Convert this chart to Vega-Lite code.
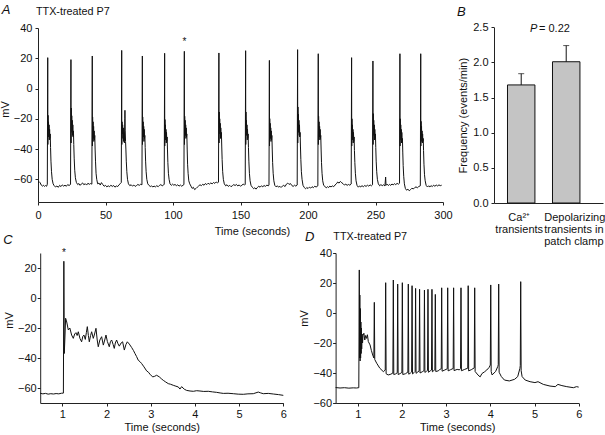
{
"$schema": "https://vega.github.io/schema/vega-lite/v6.json",
"width": 605, "height": 435,
"autosize": {"type": "none"},
"padding": 0,
"background": "white",
"config": {
  "view": {"stroke": null},
  "axis": {"grid": false, "domainColor": "#222", "tickColor": "#222", "labelColor": "#111", "titleColor": "#111", "labelFont": "Liberation Sans", "titleFont": "Liberation Sans", "labelFontSize": 11, "titleFontSize": 11, "titleFontWeight": "normal", "tickSize": 3, "labelPadding": 3, "titlePadding": 3, "labelFlush": false, "labelOverlap": false, "domainWidth": 1, "tickWidth": 1},
  "text": {"font": "Liberation Sans", "color": "#111"}
},
"datasets": {
"traceA": [
{"t":0,"v":-62.0},{"t":0.8,"v":-61.5},{"t":1.6,"v":-62.3},{"t":2.4,"v":-63.8},{"t":3.2,"v":-64.5},{"t":4.0,"v":-63.9},{"t":4.8,"v":-64.7},{"t":5.6,"v":-64.1},{"t":6.4,"v":-64.6},{"t":6.9,"v":-63.2},
{"t":7.2,"v":20.4},{"t":7.3,"v":-37},{"t":7.45,"v":-17.7},{"t":7.65,"v":-28},{"t":7.8,"v":-22},{"t":8.0,"v":-32},{"t":8.2,"v":-24},{"t":8.4,"v":-34},{"t":8.6,"v":-27},{"t":8.8,"v":-33},{"t":9.05,"v":-30},{"t":9.3,"v":-39},{"t":9.6,"v":-48},{"t":10.0,"v":-55},{"t":10.5,"v":-60},{"t":11.2,"v":-63},
{"t":12,"v":-64.2},{"t":13,"v":-65.1},{"t":14,"v":-64.4},{"t":15,"v":-65.3},{"t":16,"v":-64.0},{"t":17,"v":-64.8},{"t":18,"v":-63.7},{"t":19,"v":-64.5},{"t":20,"v":-63.9},{"t":21,"v":-64.6},{"t":22,"v":-63.5},{"t":23,"v":-64.1},{"t":24.1,"v":-63.4},
{"t":24.4,"v":19.1},{"t":24.5,"v":-36},{"t":24.65,"v":-12.9},{"t":24.85,"v":-24},{"t":25.0,"v":-18},{"t":25.2,"v":-29},{"t":25.4,"v":-21},{"t":25.6,"v":-31},{"t":25.8,"v":-24},{"t":26.0,"v":-32},{"t":26.25,"v":-28},{"t":26.5,"v":-37},{"t":26.8,"v":-46},{"t":27.2,"v":-54},{"t":27.7,"v":-59},{"t":28.4,"v":-62},
{"t":29.4,"v":-63.5},{"t":30.3,"v":-62.8},{"t":31.2,"v":-64.0},{"t":32.1,"v":-63.1},{"t":33,"v":-62.4},{"t":34,"v":-63.6},{"t":35,"v":-62.9},{"t":36,"v":-63.8},{"t":37,"v":-62.6},{"t":38,"v":-63.3},{"t":39,"v":-62.8},{"t":39.9,"v":-63.2},
{"t":40.2,"v":21.5},{"t":40.3,"v":-38},{"t":40.45,"v":-18.8},{"t":40.65,"v":-29},{"t":40.8,"v":-22},{"t":41.0,"v":-33},{"t":41.2,"v":-25},{"t":41.4,"v":-35},{"t":41.6,"v":-28},{"t":41.8,"v":-34},{"t":42.05,"v":-31},{"t":42.3,"v":-40},{"t":42.6,"v":-48},{"t":43.0,"v":-56},{"t":43.5,"v":-60},{"t":44.2,"v":-63},
{"t":45.2,"v":-62.5},{"t":46.1,"v":-63.8},{"t":47,"v":-62.2},{"t":48,"v":-63.5},{"t":49,"v":-64.6},{"t":50,"v":-64.0},{"t":51,"v":-65.0},{"t":52,"v":-64.3},{"t":53,"v":-64.9},{"t":54,"v":-63.9},{"t":55,"v":-64.7},{"t":56,"v":-64.1},{"t":57,"v":-65.2},{"t":58,"v":-64.4},{"t":59,"v":-64.8},{"t":60,"v":-63.6},{"t":61,"v":-62.8},{"t":61.7,"v":-62.2},
{"t":62.0,"v":25.2},{"t":62.1,"v":-37},{"t":62.25,"v":-22},{"t":62.45,"v":-30},{"t":62.7,"v":-24},{"t":62.95,"v":-33},{"t":63.2,"v":-26},{"t":63.45,"v":-35},{"t":63.7,"v":-29},{"t":64.0,"v":-36},{"t":64.3,"v":-20},{"t":64.4,"v":-14.4},{"t":64.6,"v":-28},{"t":64.85,"v":-35},{"t":65.1,"v":-40},{"t":65.4,"v":-48},{"t":65.8,"v":-55},{"t":66.3,"v":-60},{"t":67.0,"v":-63},
{"t":68,"v":-64.2},{"t":69,"v":-63.6},{"t":70,"v":-64.5},{"t":71,"v":-63.8},{"t":72,"v":-64.7},{"t":73,"v":-64.1},{"t":74,"v":-63.4},{"t":75,"v":-64.0},{"t":76,"v":-63.3},{"t":77.0,"v":-63.6},
{"t":77.3,"v":21.5},{"t":77.4,"v":-37},{"t":77.55,"v":-18.8},{"t":77.75,"v":-28},{"t":77.9,"v":-22},{"t":78.1,"v":-32},{"t":78.3,"v":-25},{"t":78.5,"v":-35},{"t":78.7,"v":-27},{"t":78.9,"v":-33},{"t":79.15,"v":-31},{"t":79.4,"v":-39},{"t":79.7,"v":-48},{"t":80.1,"v":-55},{"t":80.6,"v":-60},{"t":81.3,"v":-63},
{"t":82.3,"v":-64.1},{"t":83.2,"v":-64.8},{"t":84.1,"v":-64.3},{"t":85,"v":-65.1},{"t":86,"v":-64.5},{"t":87,"v":-65.0},{"t":88,"v":-64.2},{"t":89,"v":-64.9},{"t":90,"v":-64.0},{"t":91,"v":-63.5},{"t":92,"v":-64.3},{"t":93,"v":-63.8},{"t":93.5,"v":-63.2},
{"t":93.8,"v":23.3},{"t":93.9,"v":-38},{"t":94.05,"v":-20.5},{"t":94.25,"v":-30},{"t":94.4,"v":-24},{"t":94.6,"v":-34},{"t":94.8,"v":-27},{"t":95.0,"v":-36},{"t":95.2,"v":-29},{"t":95.4,"v":-35},{"t":95.65,"v":-32},{"t":95.9,"v":-40},{"t":96.2,"v":-49},{"t":96.6,"v":-56},{"t":97.1,"v":-60},{"t":97.8,"v":-63},
{"t":98.8,"v":-64.0},{"t":99.7,"v":-63.2},{"t":100.6,"v":-63.9},{"t":101.5,"v":-63.4},{"t":102.5,"v":-64.2},{"t":103.5,"v":-63.6},{"t":104.5,"v":-64.5},{"t":105.5,"v":-63.8},{"t":106.5,"v":-64.6},{"t":107.4,"v":-63.9},{"t":108.1,"v":-63.5},
{"t":108.4,"v":24.6},{"t":108.5,"v":-37},{"t":108.65,"v":-18.3},{"t":108.85,"v":-27},{"t":109.0,"v":-21},{"t":109.2,"v":-31},{"t":109.4,"v":-24},{"t":109.6,"v":-33},{"t":109.8,"v":-26},{"t":110.0,"v":-32},{"t":110.25,"v":-30},{"t":110.5,"v":-40},{"t":110.8,"v":-50},{"t":111.2,"v":-56},{"t":111.7,"v":-61},{"t":112.4,"v":-63},
{"t":113.3,"v":-64.5},{"t":114.2,"v":-66.0},{"t":115.1,"v":-65.3},{"t":116,"v":-66.8},{"t":117,"v":-66.1},{"t":118,"v":-65.2},{"t":119,"v":-64.4},{"t":120,"v":-63.6},{"t":121,"v":-64.2},{"t":122,"v":-63.3},{"t":123,"v":-63.9},{"t":124,"v":-62.8},{"t":125,"v":-63.5},{"t":126,"v":-62.6},{"t":127,"v":-63.2},{"t":128,"v":-62.4},{"t":129,"v":-63.0},{"t":130,"v":-62.1},{"t":131,"v":-62.7},{"t":132,"v":-61.8},{"t":133,"v":-62.3},{"t":133.7,"v":-61.9},
{"t":134.0,"v":23.5},{"t":134.1,"v":-36},{"t":134.25,"v":-15.5},{"t":134.45,"v":-26},{"t":134.6,"v":-20},{"t":134.8,"v":-30},{"t":135.0,"v":-23},{"t":135.2,"v":-33},{"t":135.4,"v":-26},{"t":135.6,"v":-32},{"t":135.85,"v":-29},{"t":136.1,"v":-38},{"t":136.4,"v":-47},{"t":136.8,"v":-55},{"t":137.3,"v":-60},{"t":138.0,"v":-63},
{"t":139,"v":-64.3},{"t":140,"v":-63.6},{"t":141,"v":-64.7},{"t":142,"v":-64.0},{"t":143,"v":-64.9},{"t":144,"v":-64.2},{"t":145,"v":-63.5},{"t":146,"v":-64.1},{"t":147,"v":-63.4},{"t":148,"v":-64.4},{"t":149,"v":-63.7},{"t":150,"v":-64.6},{"t":151,"v":-63.9},{"t":152,"v":-63.2},{"t":153,"v":-63.8},{"t":153.5,"v":-63.3},
{"t":153.8,"v":25.0},{"t":153.9,"v":-37},{"t":154.05,"v":-15.5},{"t":154.25,"v":-27},{"t":154.4,"v":-21},{"t":154.6,"v":-31},{"t":154.8,"v":-24},{"t":155.0,"v":-34},{"t":155.2,"v":-27},{"t":155.4,"v":-33},{"t":155.65,"v":-30},{"t":155.9,"v":-39},{"t":156.2,"v":-48},{"t":156.6,"v":-56},{"t":157.1,"v":-61},{"t":157.8,"v":-64},
{"t":158.8,"v":-65.3},{"t":159.7,"v":-66.2},{"t":160.6,"v":-65.6},{"t":161.5,"v":-66.5},{"t":162.5,"v":-65.4},{"t":163.5,"v":-64.6},{"t":164.5,"v":-65.2},{"t":165.5,"v":-64.3},{"t":166.5,"v":-64.9},{"t":167.5,"v":-64.1},{"t":168.5,"v":-64.7},{"t":169.5,"v":-63.8},{"t":170.5,"v":-64.3},{"t":171.1,"v":-63.9},
{"t":171.4,"v":18.6},{"t":171.5,"v":-38},{"t":171.65,"v":-19.9},{"t":171.85,"v":-29},{"t":172.0,"v":-23},{"t":172.2,"v":-33},{"t":172.4,"v":-26},{"t":172.6,"v":-35},{"t":172.8,"v":-28},{"t":173.0,"v":-34},{"t":173.25,"v":-31},{"t":173.5,"v":-40},{"t":173.8,"v":-49},{"t":174.2,"v":-56},{"t":174.7,"v":-61},{"t":175.4,"v":-64},
{"t":176.4,"v":-65.0},{"t":177.3,"v":-64.3},{"t":178.2,"v":-65.2},{"t":179.1,"v":-64.6},{"t":180,"v":-65.4},{"t":181,"v":-64.5},{"t":182,"v":-64.0},{"t":183,"v":-64.8},{"t":184,"v":-63.2},{"t":185,"v":-62.5},{"t":186,"v":-63.4},{"t":187,"v":-62.8},{"t":188,"v":-64.1},{"t":189,"v":-64.7},{"t":190,"v":-63.9},{"t":191,"v":-64.5},{"t":192.0,"v":-63.8},
{"t":192.3,"v":25.7},{"t":192.4,"v":-36},{"t":192.55,"v":-12.2},{"t":192.75,"v":-24},{"t":192.9,"v":-17},{"t":193.1,"v":-29},{"t":193.3,"v":-21},{"t":193.5,"v":-31},{"t":193.7,"v":-24},{"t":193.9,"v":-32},{"t":194.15,"v":-29},{"t":194.4,"v":-38},{"t":194.7,"v":-47},{"t":195.1,"v":-55},{"t":195.6,"v":-60},{"t":196.3,"v":-64},
{"t":197.3,"v":-65.5},{"t":198.2,"v":-66.3},{"t":199.1,"v":-65.4},{"t":200,"v":-66.1},{"t":201,"v":-65.2},{"t":202,"v":-65.8},{"t":203,"v":-64.9},{"t":204,"v":-65.5},{"t":205,"v":-64.6},{"t":206,"v":-65.1},{"t":207.3,"v":-64.3},
{"t":207.6,"v":23.0},{"t":207.7,"v":-37},{"t":207.85,"v":-18.3},{"t":208.05,"v":-28},{"t":208.2,"v":-22},{"t":208.4,"v":-32},{"t":208.6,"v":-25},{"t":208.8,"v":-34},{"t":209.0,"v":-27},{"t":209.2,"v":-33},{"t":209.45,"v":-31},{"t":209.7,"v":-40},{"t":210.0,"v":-49},{"t":210.4,"v":-56},{"t":210.9,"v":-61},{"t":211.6,"v":-64},
{"t":212.6,"v":-64.8},{"t":213.5,"v":-65.6},{"t":214.4,"v":-64.9},{"t":215.3,"v":-65.4},{"t":216.2,"v":-64.5},{"t":217.1,"v":-65.1},{"t":218,"v":-64.3},{"t":219,"v":-64.9},{"t":220,"v":-63.8},{"t":221,"v":-63.0},{"t":222,"v":-61.8},{"t":223,"v":-62.5},{"t":224,"v":-61.4},{"t":225,"v":-62.3},{"t":226,"v":-62.9},{"t":227,"v":-63.8},{"t":228,"v":-63.2},{"t":229,"v":-64.0},{"t":230,"v":-63.4},{"t":231,"v":-63.9},{"t":232.0,"v":-63.1},
{"t":232.3,"v":20.4},{"t":232.4,"v":-38},{"t":232.55,"v":-20.0},{"t":232.75,"v":-30},{"t":232.9,"v":-24},{"t":233.1,"v":-34},{"t":233.3,"v":-27},{"t":233.5,"v":-36},{"t":233.7,"v":-29},{"t":233.9,"v":-35},{"t":234.15,"v":-32},{"t":234.4,"v":-41},{"t":234.7,"v":-49},{"t":235.1,"v":-56},{"t":235.6,"v":-61},{"t":236.3,"v":-64},
{"t":237.3,"v":-65.2},{"t":238.2,"v":-64.4},{"t":239.1,"v":-65.0},{"t":240,"v":-64.2},{"t":241,"v":-64.9},{"t":242,"v":-64.1},{"t":243,"v":-64.7},{"t":244,"v":-63.9},{"t":245,"v":-64.5},{"t":246,"v":-63.7},{"t":247,"v":-64.3},{"t":247.8,"v":-63.6},
{"t":248.1,"v":18.2},{"t":248.2,"v":-37},{"t":248.35,"v":-16.6},{"t":248.55,"v":-27},{"t":248.7,"v":-21},{"t":248.9,"v":-31},{"t":249.1,"v":-24},{"t":249.3,"v":-34},{"t":249.5,"v":-27},{"t":249.7,"v":-33},{"t":249.95,"v":-30},{"t":250.2,"v":-39},{"t":250.5,"v":-48},{"t":250.9,"v":-55},{"t":251.4,"v":-60},{"t":252.1,"v":-63},
{"t":253.1,"v":-64.3},{"t":254,"v":-63.5},{"t":255,"v":-64.2},{"t":256,"v":-63.6},{"t":257,"v":-64.4},{"t":257.5,"v":-58.5},{"t":257.8,"v":-64.0},{"t":258.6,"v":-63.2},{"t":259.5,"v":-64.1},{"t":260.4,"v":-63.4},{"t":261.3,"v":-64.0},{"t":262.2,"v":-63.1},{"t":263.1,"v":-63.7},{"t":264,"v":-62.9},{"t":265,"v":-63.5},{"t":266,"v":-62.7},{"t":267,"v":-63.2},{"t":267.8,"v":-62.6},
{"t":268.1,"v":23.0},{"t":268.2,"v":-38},{"t":268.35,"v":-20.0},{"t":268.55,"v":-30},{"t":268.7,"v":-24},{"t":268.9,"v":-34},{"t":269.1,"v":-27},{"t":269.3,"v":-36},{"t":269.5,"v":-29},{"t":269.7,"v":-35},{"t":269.95,"v":-33},{"t":270.2,"v":-42},{"t":270.5,"v":-51},{"t":270.9,"v":-58},{"t":271.4,"v":-63},{"t":272.1,"v":-66},
{"t":273,"v":-67.2},{"t":274,"v":-66.5},{"t":275,"v":-67.6},{"t":276,"v":-66.8},{"t":277,"v":-65.9},{"t":278,"v":-66.4},{"t":279,"v":-65.5},{"t":280,"v":-65.0},{"t":281,"v":-65.6},{"t":282,"v":-64.8},{"t":283.2,"v":-64.3},
{"t":283.5,"v":23.0},{"t":283.6,"v":-38},{"t":283.75,"v":-21.7},{"t":283.95,"v":-31},{"t":284.1,"v":-25},{"t":284.3,"v":-35},{"t":284.5,"v":-28},{"t":284.7,"v":-36},{"t":284.9,"v":-30},{"t":285.1,"v":-35},{"t":285.35,"v":-33},{"t":285.6,"v":-41},{"t":285.9,"v":-50},{"t":286.3,"v":-57},{"t":286.8,"v":-61},{"t":287.5,"v":-64},
{"t":288.5,"v":-65.1},{"t":289.4,"v":-64.3},{"t":290.3,"v":-65.0},{"t":291.2,"v":-64.2},{"t":292.1,"v":-64.8},{"t":293,"v":-63.9},{"t":294,"v":-64.6},{"t":295,"v":-63.8},{"t":296,"v":-64.4},{"t":297,"v":-63.7},{"t":298,"v":-64.2},{"t":299,"v":-63.9}
],
"traceC": [
{"t":0.5,"v":-63.5},{"t":0.56,"v":-63.9},{"t":0.62,"v":-63.6},{"t":0.68,"v":-64.1},{"t":0.74,"v":-63.8},{"t":0.8,"v":-64.0},{"t":0.86,"v":-63.7},{"t":0.92,"v":-63.9},{"t":0.98,"v":-63.5},{"t":1.025,"v":-63.4},
{"t":1.035,"v":24.5},{"t":1.045,"v":-37},{"t":1.06,"v":-26},{"t":1.075,"v":-13.5},{"t":1.1,"v":-16},{"t":1.136,"v":-21.3},{"t":1.17,"v":-20},{"t":1.211,"v":-24.7},{"t":1.249,"v":-26.9},{"t":1.28,"v":-24},{"t":1.309,"v":-23.1},{"t":1.336,"v":-25},{"t":1.362,"v":-22.5},{"t":1.4,"v":-27},{"t":1.437,"v":-29.2},{"t":1.465,"v":-25.5},{"t":1.49,"v":-24.7},{"t":1.52,"v":-27.6},{"t":1.545,"v":-23},{"t":1.566,"v":-19.1},{"t":1.59,"v":-25},{"t":1.611,"v":-29.2},{"t":1.64,"v":-25},{"t":1.664,"v":-22.5},{"t":1.701,"v":-26.9},{"t":1.73,"v":-24},{"t":1.762,"v":-20.2},{"t":1.79,"v":-28},{"t":1.814,"v":-32.5},{"t":1.85,"v":-28},{"t":1.89,"v":-25.8},{"t":1.928,"v":-31.4},{"t":1.96,"v":-28},{"t":1.988,"v":-24.7},{"t":2.02,"v":-29},{"t":2.063,"v":-32.5},{"t":2.09,"v":-29},{"t":2.116,"v":-28.0},{"t":2.15,"v":-31},{"t":2.176,"v":-33.6},{"t":2.2,"v":-30},{"t":2.229,"v":-28.0},{"t":2.26,"v":-30.5},{"t":2.29,"v":-32.1},{"t":2.33,"v":-30},{"t":2.365,"v":-29.2},{"t":2.403,"v":-34.7},{"t":2.44,"v":-31},{"t":2.471,"v":-29.2},{"t":2.516,"v":-30.7},{"t":2.569,"v":-33.0},{"t":2.61,"v":-35},{"t":2.644,"v":-37.0},{"t":2.68,"v":-39},{"t":2.719,"v":-41.5},{"t":2.76,"v":-42.5},{"t":2.795,"v":-43.7},{"t":2.848,"v":-45.9},{"t":2.908,"v":-48.6},{"t":2.95,"v":-49.5},{"t":2.983,"v":-50.8},{"t":3.044,"v":-52.6},{"t":3.09,"v":-52.2},{"t":3.134,"v":-51.5},{"t":3.195,"v":-52.6},{"t":3.24,"v":-53.8},{"t":3.285,"v":-54.9},{"t":3.34,"v":-56},{"t":3.398,"v":-57.1},{"t":3.45,"v":-57.5},{"t":3.511,"v":-58.2},{"t":3.57,"v":-58.8},{"t":3.624,"v":-59.3},{"t":3.662,"v":-60.7},{"t":3.7,"v":-59.1},{"t":3.76,"v":-60.8},{"t":3.813,"v":-61.6},{"t":3.89,"v":-62},{"t":3.964,"v":-62.2},{"t":4.04,"v":-61.8},{"t":4.115,"v":-62.0},{"t":4.2,"v":-62.3},{"t":4.303,"v":-62.2},{"t":4.4,"v":-62.6},{"t":4.492,"v":-62.9},{"t":4.57,"v":-63.3},{"t":4.643,"v":-63.6},{"t":4.75,"v":-63.5},{"t":4.869,"v":-63.8},{"t":4.98,"v":-64.1},{"t":5.095,"v":-64.2},{"t":5.2,"v":-63.9},{"t":5.321,"v":-63.8},{"t":5.434,"v":-62.7},{"t":5.49,"v":-63.3},{"t":5.548,"v":-63.8},{"t":5.66,"v":-63.6},{"t":5.774,"v":-64.0},{"t":5.89,"v":-64.4},{"t":6.0,"v":-64.9}
],
"traceD": [
{"t":0.5,"v":-49.7},{"t":0.6,"v":-50.0},{"t":0.7,"v":-49.8},{"t":0.8,"v":-50.1},{"t":0.9,"v":-49.9},{"t":0.97,"v":-50.0},{"t":1.025,"v":-49.8},
{"t":1.036,"v":28.7},{"t":1.042,"v":-30},{"t":1.048,"v":12},{"t":1.054,"v":-32},{"t":1.06,"v":3},{"t":1.066,"v":-30},{"t":1.072,"v":-6},{"t":1.078,"v":-27},{"t":1.084,"v":-10},{"t":1.09,"v":-24},{"t":1.1,"v":-14},{"t":1.11,"v":-20},{"t":1.12,"v":-15},{"t":1.14,"v":-13.5},{"t":1.16,"v":-18},{"t":1.18,"v":-15},{"t":1.2,"v":-16.9},{"t":1.22,"v":-14.5},{"t":1.24,"v":-19},{"t":1.28,"v":-21.3},{"t":1.31,"v":-25},{"t":1.34,"v":-28},{"t":1.366,"v":-30},
{"t":1.376,"v":7.1},{"t":1.386,"v":-31},{"t":1.43,"v":-33.5},{"t":1.5,"v":-36.8},{"t":1.58,"v":-39.1},{"t":1.623,"v":-38},
{"t":1.633,"v":20.2},{"t":1.643,"v":-40.5},{"t":1.69,"v":-41.3},{"t":1.75,"v":-40.8},{"t":1.796,"v":-40.0},
{"t":1.806,"v":22.0},{"t":1.816,"v":-41.0},{"t":1.86,"v":-40.6},{"t":1.895,"v":-39.8},
{"t":1.905,"v":19.3},{"t":1.915,"v":-41.0},{"t":1.96,"v":-40.4},{"t":2.0,"v":-39.6},
{"t":2.01,"v":20.2},{"t":2.02,"v":-41.0},{"t":2.08,"v":-40.5},{"t":2.135,"v":-39.4},
{"t":2.145,"v":19.3},{"t":2.155,"v":-40.8},{"t":2.195,"v":-40.0},{"t":2.22,"v":-39.3},
{"t":2.23,"v":18.2},{"t":2.24,"v":-40.6},{"t":2.28,"v":-39.6},{"t":2.3,"v":-39.0},
{"t":2.31,"v":16.4},{"t":2.32,"v":-40.2},{"t":2.36,"v":-39.3},{"t":2.39,"v":-38.6},
{"t":2.4,"v":15.8},{"t":2.41,"v":-40.0},{"t":2.46,"v":-39.2},{"t":2.5,"v":-38.4},
{"t":2.51,"v":15.3},{"t":2.52,"v":-39.6},{"t":2.56,"v":-38.8},{"t":2.58,"v":-38.2},
{"t":2.59,"v":15.8},{"t":2.6,"v":-39.5},{"t":2.64,"v":-38.6},{"t":2.67,"v":-38.0},
{"t":2.68,"v":15.8},{"t":2.69,"v":-39.2},{"t":2.725,"v":-38.3},{"t":2.746,"v":-37.8},
{"t":2.756,"v":12.4},{"t":2.766,"v":-39.0},{"t":2.82,"v":-38.6},{"t":2.86,"v":-37.6},{"t":2.89,"v":-37.2},
{"t":2.9,"v":16.8},{"t":2.91,"v":-38.8},{"t":2.97,"v":-38.0},{"t":3.026,"v":-37.2},
{"t":3.036,"v":16.8},{"t":3.046,"v":-38.6},{"t":3.1,"v":-37.8},{"t":3.16,"v":-37.0},
{"t":3.17,"v":16.8},{"t":3.18,"v":-38.4},{"t":3.25,"v":-37.6},{"t":3.3,"v":-37.9},{"t":3.327,"v":-37.0},
{"t":3.337,"v":16.8},{"t":3.347,"v":-38.5},{"t":3.42,"v":-37.6},{"t":3.49,"v":-36.8},
{"t":3.5,"v":18.2},{"t":3.51,"v":-38.6},{"t":3.57,"v":-37.8},{"t":3.637,"v":-36.6},
{"t":3.647,"v":16.8},{"t":3.657,"v":-39.0},{"t":3.72,"v":-41.3},{"t":3.77,"v":-42.6},{"t":3.81,"v":-40.4},{"t":3.87,"v":-39.2},{"t":3.92,"v":-38.0},{"t":3.97,"v":-36.4},{"t":4.0,"v":-34.7},
{"t":4.01,"v":18.7},{"t":4.02,"v":-39.0},{"t":4.04,"v":-41.3},{"t":4.12,"v":-39.0},{"t":4.17,"v":-35.6},{"t":4.18,"v":-34.5},
{"t":4.19,"v":19.3},{"t":4.2,"v":-39.5},{"t":4.25,"v":-42.4},{"t":4.32,"v":-44.7},{"t":4.43,"v":-45.3},{"t":4.55,"v":-44.2},{"t":4.62,"v":-42.4},{"t":4.67,"v":-36.9},{"t":4.678,"v":-35.0},
{"t":4.688,"v":20.9},{"t":4.698,"v":-38.5},{"t":4.72,"v":-42.4},{"t":4.79,"v":-44.7},{"t":4.9,"v":-45.8},{"t":5.01,"v":-46.4},{"t":5.08,"v":-45.8},{"t":5.2,"v":-47.6},{"t":5.35,"v":-48.7},{"t":5.47,"v":-49.1},{"t":5.53,"v":-47.6},{"t":5.62,"v":-48.4},{"t":5.73,"v":-49.1},{"t":5.88,"v":-49.8},{"t":5.95,"v":-49.1},{"t":6.0,"v":-49.4}
],
"bars": [
{"cond":"Ca²⁺|transients","mean":1.68,"upper":1.84},
{"cond":"Depolarizing|transients in|patch clamp","mean":2.01,"upper":2.24}
],
"notes": [
{"panel":"A","kind":"letter","t":-26.9,"v":52.2,"label":"A"},
{"panel":"A","kind":"head","t":-1.5,"v":50.8,"label":"TTX-treated P7"},
{"panel":"A","kind":"star","t":108.4,"v":28.7,"label":"*"},
{"panel":"B","kind":"letter","t":-0.42,"v":2.72,"label":"B"},
{"panel":"B","kind":"pital","t":1.2,"v":2.473,"label":"P"},
{"panel":"B","kind":"head","t":1.4,"v":2.473,"label":"= 0.22"},
{"panel":"C","kind":"letter","t":-0.335,"v":38.7,"label":"C"},
{"panel":"C","kind":"star","t":1.035,"v":28.1,"label":"*"},
{"panel":"D","kind":"letter","t":-0.192,"v":50.7,"label":"D"},
{"panel":"D","kind":"head","t":0.448,"v":50.7,"label":"TTX-treated P7"}
]
},
"layer": [
{
 "layer": [
  {"data": {"name": "traceA"}, "mark": {"type": "line", "color": "#111", "strokeWidth": 1},
   "encoding": {
    "x": {"field": "t", "type": "quantitative", "scale": {"domain": [0, 300], "range": [38, 443]}, "axis": {"orient": "bottom", "offset": -233, "values": [0, 50, 100, 150, 200, 250, 300], "title": "Time (seconds)", "titleX": 252, "labelPadding": 4, "titlePadding": 5}},
    "y": {"field": "v", "type": "quantitative", "scale": {"domain": [-75, 40], "range": [202, 28]}, "axis": {"orient": "left", "offset": -38, "values": [-60, -40, -20, 0, 20, 40], "title": "mV", "titleY": 109}}
   }},
  {"data": {"name": "notes"}, "transform": [{"filter": "datum.panel == 'A' && datum.kind == 'letter'"}],
   "mark": {"type": "text", "fontSize": 13, "fontStyle": "italic", "align": "left", "baseline": "middle"},
   "encoding": {"x": {"field": "t", "type": "quantitative", "scale": {"domain": [0, 300], "range": [38, 443]}, "axis": null}, "y": {"field": "v", "type": "quantitative", "scale": {"domain": [-75, 40], "range": [202, 28]}, "axis": null}, "text": {"field": "label"}}},
  {"data": {"name": "notes"}, "transform": [{"filter": "datum.panel == 'A' && datum.kind == 'head'"}],
   "mark": {"type": "text", "fontSize": 10.8, "align": "left", "baseline": "middle"},
   "encoding": {"x": {"field": "t", "type": "quantitative", "scale": {"domain": [0, 300], "range": [38, 443]}, "axis": null}, "y": {"field": "v", "type": "quantitative", "scale": {"domain": [-75, 40], "range": [202, 28]}, "axis": null}, "text": {"field": "label"}}},
  {"data": {"name": "notes"}, "transform": [{"filter": "datum.panel == 'A' && datum.kind == 'star'"}],
   "mark": {"type": "text", "fontSize": 10, "align": "center", "baseline": "alphabetic"},
   "encoding": {"x": {"field": "t", "type": "quantitative", "scale": {"domain": [0, 300], "range": [38, 443]}, "axis": null}, "y": {"field": "v", "type": "quantitative", "scale": {"domain": [-75, 40], "range": [202, 28]}, "axis": null}, "text": {"field": "label"}}}
 ],
 "resolve": {"scale": {"x": "independent", "y": "independent"}, "axis": {"x": "independent", "y": "independent"}}
},
{
 "layer": [
  {
   "data": {"name": "bars"},
   "layer": [
    {"mark": {"type": "bar", "fill": "#c4c4c4", "stroke": "#111", "strokeWidth": 1},
     "encoding": {
      "x": {"field": "cond", "type": "nominal", "sort": null, "scale": {"range": [494, 603], "paddingInner": 0.39, "paddingOuter": 0.406, "align": 0.369},
            "axis": {"orient": "bottom", "offset": -232, "title": null, "ticks": false, "tickSize": 0, "labelPadding": 8, "labelAngle": 0, "labelBaseline": "top", "labelLineHeight": 12, "labelExpr": "split(datum.label, '|')",
                     "labelAlign": {"condition": {"test": "indexof(datum.value, 'Depol') == 0", "value": "left"}, "value": "center"},
                     "labelOffset": {"condition": {"test": "indexof(datum.value, 'Depol') == 0", "value": -22}, "value": -2}}},
      "y": {"field": "mean", "type": "quantitative", "scale": {"domain": [0, 2.5], "range": [203, 27.3]}, "axis": {"orient": "left", "offset": -494, "values": [0, 0.5, 1, 1.5, 2, 2.5], "format": ".1f", "title": "Frequency (events/min)", "titlePadding": 4}}
     }},
    {"mark": {"type": "rule", "color": "#111", "strokeWidth": 1},
     "encoding": {
      "x": {"field": "cond", "type": "nominal", "sort": null, "scale": {"range": [494, 603], "paddingInner": 0.39, "paddingOuter": 0.406, "align": 0.369}},
      "y": {"field": "mean", "type": "quantitative", "scale": {"domain": [0, 2.5], "range": [203, 27.3]}},
      "y2": {"field": "upper"}
     }},
    {"mark": {"type": "tick", "color": "#111", "thickness": 1, "size": 6},
     "encoding": {
      "x": {"field": "cond", "type": "nominal", "sort": null, "scale": {"range": [494, 603], "paddingInner": 0.39, "paddingOuter": 0.406, "align": 0.369}},
      "y": {"field": "upper", "type": "quantitative", "scale": {"domain": [0, 2.5], "range": [203, 27.3]}}
     }}
   ]
  },
  {"data": {"name": "notes"}, "transform": [{"filter": "datum.panel == 'B' && datum.kind == 'letter'"}],
   "mark": {"type": "text", "fontSize": 13, "fontStyle": "italic", "align": "left", "baseline": "middle"},
   "encoding": {"x": {"field": "t", "type": "quantitative", "scale": {"domain": [0.4, 2.822], "range": [494, 603]}, "axis": null}, "y": {"field": "v", "type": "quantitative", "scale": {"domain": [0, 2.5], "range": [203, 27.3]}, "axis": null}, "text": {"field": "label"}}},
  {"data": {"name": "notes"}, "transform": [{"filter": "datum.panel == 'B' && datum.kind == 'pital'"}],
   "mark": {"type": "text", "fontSize": 11, "fontStyle": "italic", "align": "left", "baseline": "middle"},
   "encoding": {"x": {"field": "t", "type": "quantitative", "scale": {"domain": [0.4, 2.822], "range": [494, 603]}, "axis": null}, "y": {"field": "v", "type": "quantitative", "scale": {"domain": [0, 2.5], "range": [203, 27.3]}, "axis": null}, "text": {"field": "label"}}},
  {"data": {"name": "notes"}, "transform": [{"filter": "datum.panel == 'B' && datum.kind == 'head'"}],
   "mark": {"type": "text", "fontSize": 11, "align": "left", "baseline": "middle"},
   "encoding": {"x": {"field": "t", "type": "quantitative", "scale": {"domain": [0.4, 2.822], "range": [494, 603]}, "axis": null}, "y": {"field": "v", "type": "quantitative", "scale": {"domain": [0, 2.5], "range": [203, 27.3]}, "axis": null}, "text": {"field": "label"}}}
 ],
 "resolve": {"scale": {"x": "independent", "y": "independent"}, "axis": {"x": "independent", "y": "independent"}}
},
{
 "layer": [
  {"data": {"name": "traceC"}, "mark": {"type": "line", "color": "#111", "strokeWidth": 1},
   "encoding": {
    "x": {"field": "t", "type": "quantitative", "scale": {"domain": [0.5, 6], "range": [40.2, 283.3]}, "axis": {"orient": "bottom", "offset": -32, "values": [1, 2, 3, 4, 5, 6], "title": "Time (seconds)", "labelPadding": 2, "titlePadding": 2}},
    "y": {"field": "v", "type": "quantitative", "scale": {"domain": [-70, 30], "range": [403, 253]}, "axis": {"orient": "left", "offset": -40.2, "values": [-60, -40, -20, 0, 20], "title": "mV", "labelPadding": 1, "titleY": 320}}
   }},
  {"data": {"name": "notes"}, "transform": [{"filter": "datum.panel == 'C' && datum.kind == 'letter'"}],
   "mark": {"type": "text", "fontSize": 13, "fontStyle": "italic", "align": "left", "baseline": "middle"},
   "encoding": {"x": {"field": "t", "type": "quantitative", "scale": {"domain": [0.5, 6], "range": [40.2, 283.3]}, "axis": null}, "y": {"field": "v", "type": "quantitative", "scale": {"domain": [-70, 30], "range": [403, 253]}, "axis": null}, "text": {"field": "label"}}},
  {"data": {"name": "notes"}, "transform": [{"filter": "datum.panel == 'C' && datum.kind == 'star'"}],
   "mark": {"type": "text", "fontSize": 10, "align": "center", "baseline": "alphabetic"},
   "encoding": {"x": {"field": "t", "type": "quantitative", "scale": {"domain": [0.5, 6], "range": [40.2, 283.3]}, "axis": null}, "y": {"field": "v", "type": "quantitative", "scale": {"domain": [-70, 30], "range": [403, 253]}, "axis": null}, "text": {"field": "label"}}}
 ],
 "resolve": {"scale": {"x": "independent", "y": "independent"}, "axis": {"x": "independent", "y": "independent"}}
},
{
 "layer": [
  {"data": {"name": "traceD"}, "mark": {"type": "line", "color": "#111", "strokeWidth": 1},
   "encoding": {
    "x": {"field": "t", "type": "quantitative", "scale": {"domain": [0.5, 6], "range": [335.6, 578.7]}, "axis": {"orient": "bottom", "offset": -32, "values": [1, 2, 3, 4, 5, 6], "title": "Time (seconds)", "labelPadding": 2, "titlePadding": 2}},
    "y": {"field": "v", "type": "quantitative", "scale": {"domain": [-60, 40], "range": [403, 253]}, "axis": {"orient": "left", "offset": -335.6, "values": [-60, -40, -20, 0, 20, 40], "title": "mV", "labelPadding": 1, "titleY": 318}}
   }},
  {"data": {"name": "notes"}, "transform": [{"filter": "datum.panel == 'D' && datum.kind == 'letter'"}],
   "mark": {"type": "text", "fontSize": 13, "fontStyle": "italic", "align": "left", "baseline": "middle"},
   "encoding": {"x": {"field": "t", "type": "quantitative", "scale": {"domain": [0.5, 6], "range": [335.6, 578.7]}, "axis": null}, "y": {"field": "v", "type": "quantitative", "scale": {"domain": [-60, 40], "range": [403, 253]}, "axis": null}, "text": {"field": "label"}}},
  {"data": {"name": "notes"}, "transform": [{"filter": "datum.panel == 'D' && datum.kind == 'head'"}],
   "mark": {"type": "text", "fontSize": 10.8, "align": "left", "baseline": "middle"},
   "encoding": {"x": {"field": "t", "type": "quantitative", "scale": {"domain": [0.5, 6], "range": [335.6, 578.7]}, "axis": null}, "y": {"field": "v", "type": "quantitative", "scale": {"domain": [-60, 40], "range": [403, 253]}, "axis": null}, "text": {"field": "label"}}}
 ],
 "resolve": {"scale": {"x": "independent", "y": "independent"}, "axis": {"x": "independent", "y": "independent"}}
}
],
"resolve": {"scale": {"x": "independent", "y": "independent"}, "axis": {"x": "independent", "y": "independent"}}
}
